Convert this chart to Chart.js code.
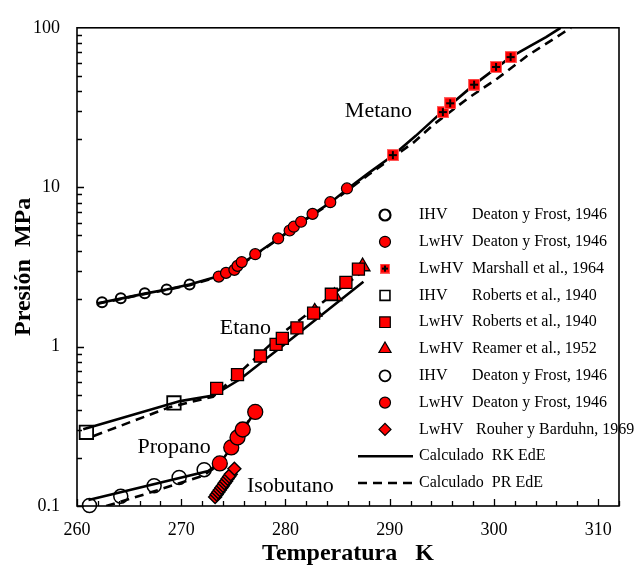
<!DOCTYPE html>
<html>
<head>
<meta charset="utf-8">
<script src="https://cdn.jsdelivr.net/npm/chart.js@4/dist/chart.umd.min.js"></script>
<style>
  body { margin: 0; background: #fff; }
  #wrap { width: 636px; height: 575px; }
</style>
</head>
<body>
<div id="wrap"><canvas id="chart" width="636" height="575"></canvas></div>
<script>
// ---- data (T in K, P in MPa) ----
// Metano
const metIhvT = [262.4, 264.2, 266.5, 268.6, 270.8];
const metIhvP = [1.90, 2.01, 2.16, 2.28, 2.45];
const metLwT = [273.6, 274.3, 275.1, 275.4, 275.8, 277.1, 279.3, 280.4, 280.8, 281.5, 282.6, 284.3, 285.9];
const metLwP = [2.75, 2.90, 3.03, 3.21, 3.39, 3.80, 4.77, 5.35, 5.65, 6.07, 6.80, 8.05, 9.82];
const marshT = [290.3, 295.1, 295.8, 298.1, 300.2, 301.6];
const marshP = [15.9, 29.6, 33.6, 44.0, 56.8, 65.5];
// Etano
const etIhvT = [260.9, 269.3];
const etIhvP = [0.290, 0.443];
const etLwT = [273.4, 275.4, 277.6, 279.1, 279.7, 281.1, 282.7, 284.4, 285.8, 287.0];
const etLwP = [0.547, 0.667, 0.873, 1.034, 1.125, 1.31, 1.62, 2.13, 2.53, 3.06];
const reamT = [282.8, 284.7, 287.4];
const reamP = [1.65, 2.07, 3.18];
// Propano
const prIhvT = [261.2, 264.2, 267.4, 269.8, 272.2];
const prIhvP = [0.1007, 0.115, 0.134, 0.151, 0.169];
const prLwT = [273.7, 274.8, 275.4, 275.9, 277.1];
const prLwP = [0.185, 0.233, 0.269, 0.302, 0.389];
// Isobutano
const isoT = [273.25, 273.4, 273.55, 273.7, 273.85, 274.0, 274.15, 274.3, 274.45, 274.6, 274.75, 275.1];
const isoP = [0.114, 0.118, 0.122, 0.126, 0.130, 0.134, 0.139, 0.143, 0.148, 0.153, 0.158, 0.171];

// calculated curves
const metRkT = [262.0, 264.2, 266.5, 268.6, 270.8, 273.05, 275.0, 277.1, 279.3, 281.5, 284.3, 286.0, 288.0, 290.3, 292.5, 295.1, 298.1, 301.6, 303.5, 305.0, 306.4];
const metRkP = [1.87, 2.00, 2.15, 2.28, 2.45, 2.70, 3.05, 3.78, 4.75, 6.05, 8.0, 9.8, 12.3, 15.8, 21.0, 30.0, 44.0, 65.5, 77.0, 87.5, 100];
const metPrT = [262.0, 264.2, 266.5, 268.6, 270.8, 273.05, 275.0, 277.1, 279.3, 281.5, 284.3, 286.0, 288.0, 290.3, 292.3, 294.2, 297.5, 300.3, 303.2, 306.5, 307.4];
const metPrP = [1.86, 1.99, 2.14, 2.27, 2.43, 2.68, 3.03, 3.75, 4.72, 6.0, 7.9, 9.6, 12.0, 15.4, 19.1, 24.7, 36.1, 47.9, 66.7, 91.8, 100];
const etRkT = [260.6, 269.9, 273.05, 275.64, 280.44, 287.48];
const etRkP = [0.303, 0.455, 0.493, 0.624, 1.10, 2.55];
const etPrT = [261.6, 268.9, 273.05, 280.0, 287.42];
const etPrP = [0.275, 0.417, 0.485, 1.257, 2.96];
const prRkT = [261.1, 272.6, 273.7, 274.8, 275.4, 275.9, 277.1];
const prRkP = [0.109, 0.166, 0.185, 0.233, 0.269, 0.302, 0.389];
const prPrT = [262.8, 266.6, 272.1, 273.7, 274.8, 275.4, 275.9, 277.1];
const prPrP = [0.100, 0.119, 0.155, 0.183, 0.233, 0.269, 0.302, 0.389];

const xTicks = [260, 270, 280, 290, 300, 310];
const yTicks = [0.1, 1, 10, 100];

const gasNames = ['Metano', 'Etano', 'Propano', 'Isobutano'];
const gasNameT = [285.7, 273.7, 265.8, 276.3];
const gasNameP = [27.5, 1.196, 0.216, 0.1225];

const legendCodes = ['IHV', 'LwHV', 'LwHV', 'IHV', 'LwHV', 'LwHV', 'IHV', 'LwHV', 'LwHV'];
const legendRefs = ['Deaton y Frost, 1946', 'Deaton y Frost, 1946', 'Marshall et al., 1964',
  'Roberts et al., 1940', 'Roberts et al., 1940', 'Reamer et al., 1952',
  'Deaton y Frost, 1946', 'Deaton y Frost, 1946', ' Rouher y Barduhn, 1969'];
const lineLabels = ['Calculado  RK EdE', 'Calculado  PR EdE'];

const RED = '#ff0000';
const FONT = "'Liberation Serif', 'Times New Roman', serif";

function pts(xs, ys) {
  return xs.map((x, i) => ({ x: x, y: ys[i] }));
}

// red square with a black cross for Marshall et al.
function plusSquare(size) {
  const c = document.createElement('canvas');
  c.width = size; c.height = size;
  const g = c.getContext('2d');
  g.fillStyle = '#ff6060';
  g.fillRect(0, 0, size, size);
  g.fillStyle = RED;
  g.fillRect(1, 1, size - 2, size - 2);
  g.fillStyle = '#000';
  const m = Math.floor(size / 2) - 1;
  g.fillRect(m, 2, 2, size - 4);
  g.fillRect(2, m, size - 4, 2);
  return c;
}
const plusImg = plusSquare(12);
const plusSmall = plusSquare(10);

function markerSet(label, xs, ys, style, radius, fill, bw) {
  return {
    label: label, data: pts(xs, ys), showLine: false, order: 1, clip: false,
    pointStyle: style, pointRadius: radius, pointHoverRadius: radius,
    backgroundColor: fill, borderColor: '#000', pointBorderWidth: bw, borderWidth: bw
  };
}
function curveSet(label, xs, ys, dash) {
  return {
    label: label, data: pts(xs, ys), showLine: true, order: 5,
    borderColor: '#000', borderWidth: 2.6, borderDash: dash, pointRadius: 0, fill: false, tension: 0
  };
}

const markerStyles = [
  { style: 'circle', r: 5.5, fill: 'rgba(0,0,0,0)', bw: 2.2 },
  { style: 'circle', r: 5.5, fill: RED, bw: 1.2 },
  { style: plusSmall, r: 5, fill: RED, bw: 0 },
  { style: 'rect', r: 7, fill: 'rgba(0,0,0,0)', bw: 1.6 },
  { style: 'rect', r: 7.5, fill: RED, bw: 1.2 },
  { style: 'triangle', r: 7, fill: RED, bw: 1.2 },
  { style: 'circle', r: 5.5, fill: 'rgba(0,0,0,0)', bw: 1.8 },
  { style: 'circle', r: 5.5, fill: RED, bw: 1.2 },
  { style: 'rectRot', r: 6, fill: RED, bw: 1.2 }
];

const frameAndTicks = {
  id: 'frameAndTicks',
  beforeDatasetsDraw(chart) {
    const ctx = chart.ctx, a = chart.chartArea;
    const xs = chart.scales.x, ys = chart.scales.y;
    ctx.save();
    ctx.strokeStyle = '#000';
    ctx.lineWidth = 1.6;
    ctx.strokeRect(a.left, a.top, a.right - a.left, a.bottom - a.top);
    ctx.lineWidth = 1.3;
    ctx.beginPath();
    for (let t = 260; t <= 312; t += 2) {
      const px = Math.round(xs.getPixelForValue(t)) + 0.5;
      const len = t % 10 === 0 ? 7 : 5;
      ctx.moveTo(px, a.bottom);
      ctx.lineTo(px, a.bottom - len);
    }
    [0.1, 1, 10].forEach(dec => {
      for (let k = 1; k <= 9; k++) {
        const py = Math.round(ys.getPixelForValue(dec * k)) + 0.5;
        const len = k === 1 ? 7 : 5;
        ctx.moveTo(a.left, py);
        ctx.lineTo(a.left + len, py);
      }
    });
    ctx.stroke();
    ctx.restore();
  },
  afterDraw(chart) {
    const ctx = chart.ctx;
    const xs = chart.scales.x, ys = chart.scales.y;
    ctx.save();
    ctx.fillStyle = '#000';
    ctx.textBaseline = 'alphabetic';
    ctx.textAlign = 'left';
    ctx.font = '22px ' + FONT;
    gasNames.forEach((n, i) => {
      ctx.fillText(n, xs.getPixelForValue(gasNameT[i]), ys.getPixelForValue(gasNameP[i]));
    });

    // legend
    ctx.font = '16px ' + FONT;
    ctx.textBaseline = 'middle';
    const y0 = 215, step = 26.8;
    legendCodes.forEach((code, i) => {
      const y = y0 + i * step;
      const m = markerStyles[i];
      ctx.fillStyle = m.fill;
      ctx.strokeStyle = '#000';
      ctx.lineWidth = m.bw;
      Chart.helpers.drawPoint(ctx, { pointStyle: m.style, radius: m.r, borderWidth: m.bw, rotation: 0 }, 385, y);
      ctx.fillStyle = '#000';
      ctx.fillText(code, 419, y);
      ctx.fillText(legendRefs[i], 472, y);
    });
    lineLabels.forEach((lab, j) => {
      const y = y0 + (legendCodes.length + j) * step;
      ctx.strokeStyle = '#000';
      ctx.lineWidth = 2.6;
      ctx.setLineDash(j === 0 ? [] : [9, 6]);
      ctx.beginPath();
      ctx.moveTo(358, y);
      ctx.lineTo(413, y);
      ctx.stroke();
      ctx.setLineDash([]);
      ctx.fillText(lab, 419, y);
    });
    ctx.restore();
  }
};

Chart.defaults.color = '#000';
Chart.defaults.font.family = FONT;

new Chart(document.getElementById('chart').getContext('2d'), {
  type: 'scatter',
  data: {
    datasets: [
      curveSet('RK metano', metRkT, metRkP, []),
      curveSet('PR metano', metPrT, metPrP, [9, 6]),
      curveSet('RK etano', etRkT, etRkP, []),
      curveSet('PR etano', etPrT, etPrP, [9, 6]),
      curveSet('RK propano', prRkT, prRkP, []),
      curveSet('PR propano', prPrT, prPrP, [9, 6]),
      markerSet('IHV metano', metIhvT, metIhvP, 'circle', 5, 'rgba(0,0,0,0)', 2),
      markerSet('LwHV metano', metLwT, metLwP, 'circle', 5.5, RED, 1.2),
      markerSet('Marshall', marshT, marshP, plusImg, 6, RED, 0),
      markerSet('IHV etano', etIhvT, etIhvP, 'rect', 9.5, 'rgba(0,0,0,0)', 1.8),
      markerSet('LwHV etano', etLwT, etLwP, 'rect', 8.5, RED, 1.3),
      markerSet('Reamer', reamT, reamP, 'triangle', 8.5, RED, 1.3),
      markerSet('IHV propano', prIhvT, prIhvP, 'circle', 7, 'rgba(0,0,0,0)', 1.5),
      markerSet('LwHV propano', prLwT, prLwP, 'circle', 7.5, RED, 1.3),
      markerSet('Rouher', isoT, isoP, 'rectRot', 6.5, RED, 1.4)
    ]
  },
  options: {
    responsive: false,
    animation: false,
    layout: { padding: { top: 18, right: 17, left: 0, bottom: 0 } },
    plugins: { legend: { display: false }, tooltip: { enabled: false } },
    scales: {
      x: {
        type: 'linear', min: 260, max: 312,
        afterFit: s => { s.height = 69; },
        afterBuildTicks: s => { s.ticks = xTicks.map(v => ({ value: v })); },
        grid: { display: false, drawTicks: false },
        border: { display: false },
        ticks: { padding: 13, font: { size: 18 }, callback: v => String(v) },
        title: { display: true, text: 'Temperatura   K', font: { size: 24, weight: 'bold' }, padding: { top: 0, bottom: 7 } }
      },
      y: {
        type: 'logarithmic', min: 0.1, max: 100,
        afterFit: s => { s.width = 77; },
        afterBuildTicks: s => { s.ticks = yTicks.map(v => ({ value: v })); },
        grid: { display: false, drawTicks: false },
        border: { display: false },
        ticks: { padding: 17, font: { size: 18 }, callback: v => String(v) },
        title: { display: true, text: 'Presión  MPa', font: { size: 24, weight: 'bold' }, padding: { top: 9, bottom: 0 } }
      }
    }
  },
  plugins: [frameAndTicks]
});
</script>
</body>
</html>
